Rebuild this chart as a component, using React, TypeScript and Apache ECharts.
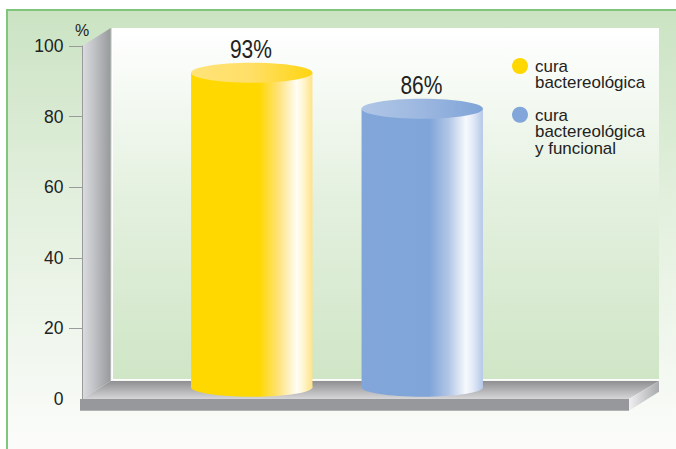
import React, { useEffect, useRef } from "react";
import * as echarts from "echarts";

const categories = ["A", "B"];
const seriesNames = ["cura bactereológica", "cura bactereológica y funcional"];
const drawnHeights = [92.4, 82.2];
const valueLabels = ["93%", "86%"];
const tickValues = [20, 40, 60, 80, 100];
const legendLines = [["cura", "bactereológica"], ["cura", "bactereológica", "y funcional"]];

const palettes = [
  {
    dot: "#ffd800",
    body: [[0, "#ffd800"], [0.56, "#ffd800"], [0.72, "#ffe27a"], [0.87, "#fffdf4"], [0.91, "#fff8dc"], [1, "#ffe387"]],
    cap: [[0, "#ffe379"], [0.5, "#ffdf66"], [1, "#ffd510"]],
  },
  {
    dot: "#82a6da",
    body: [[0, "#82a6da"], [0.56, "#7fa5d9"], [0.72, "#b3c7e6"], [0.86, "#f6f9fd"], [0.91, "#e6edf8"], [1, "#b5c8e8"]],
    cap: [[0, "#b0c6e6"], [0.5, "#9cb7e0"], [1, "#7fa4d8"]],
  },
];

const grad = (stops: any[], horizontal: boolean) => ({
  type: "linear", x: 0, y: 0, x2: horizontal ? 1 : 0, y2: horizontal ? 0 : 1,
  colorStops: stops.map(([offset, color]) => ({ offset, color })),
});

const FLAT = "Liberation Sans, Arial, sans-serif";

function cylinder(seriesIndex: number) {
  return (params: any, api: any) => {
    const pal = palettes[seriesIndex];
    const top = api.coord([api.value(0), api.value(1)]);
    const base = api.coord([api.value(0), 3.3]);
    const rx = 60.7;
    const ry = 10;
    const body = grad(pal.body, true);
    return {
      type: "group",
      children: [
        { type: "rect", shape: { x: top[0] - rx, y: top[1], width: rx * 2, height: base[1] - top[1] }, style: { fill: body } },
        { type: "ellipse", shape: { cx: top[0], cy: base[1], rx, ry: 9.5 }, style: { fill: body } },
        { type: "ellipse", shape: { cx: top[0], cy: top[1], rx, ry }, style: { fill: grad(pal.cap, true) } },
        {
          type: "text", x: top[0] - 0.8, y: top[1] - 23.5, scaleX: 0.84,
          style: { text: valueLabels[seriesIndex], fontFamily: FLAT, fontSize: 25, fill: "#222", align: "center", verticalAlign: "middle" },
        },
      ],
    };
  };
}

export default function App() {
  const ref = useRef<HTMLDivElement>(null);
  useEffect(() => {
    const chart = echarts.init(ref.current!, undefined, { renderer: "svg" });
    const legendGraphics: any[] = [];
    [66, 114.7].forEach((cy, i) => {
      legendGraphics.push({ type: "circle", z: 5, shape: { cx: 520, cy, r: 8 }, style: { fill: palettes[i].dot } });
      legendLines[i].forEach((line, j) => {
        legendGraphics.push({
          type: "text", z: 5, x: 535, y: cy + j * 16.6, scaleX: 1.06,
          style: { text: line, fontFamily: FLAT, fontSize: 16, fill: "#222", verticalAlign: "middle", align: "left" },
        });
      });
    });
    chart.setOption({
      animation: false,
      backgroundColor: "#ffffff",
      grid: { left: 166.5, width: 341, top: 46, height: 353 },
      xAxis: { type: "category", data: categories, show: false },
      yAxis: {
        type: "value", min: 0, max: 100, interval: 20, offset: 84.5,
        name: "%", nameLocation: "end", nameGap: 8,
        nameTextStyle: { fontFamily: FLAT, fontSize: 16, color: "#222", align: "center", padding: [0, 0, 0, 0] },
        axisLine: { show: true, lineStyle: { color: "#9a9a9c", width: 1 } },
        axisTick: { show: true, length: 13, customValues: tickValues, lineStyle: { color: "#9a9a9c", width: 1 } },
        axisLabel: { margin: 18.5, fontFamily: FLAT, fontSize: 17.5, color: "#222" },
        splitLine: { show: false },
      },
      graphic: {
        elements: [
          { type: "rect", z: -10, shape: { x: 8, y: 11, width: 668, height: 438 }, style: { fill: grad([[0, "#cbe3c3"], [0.45, "#e3f0de"], [1, "#fbfcfa"]], false) } },
          { type: "rect", z: -9, shape: { x: 6, y: 9, width: 670, height: 2 }, style: { fill: "#7fc67c" } },
          { type: "rect", z: -9, shape: { x: 6, y: 9, width: 2, height: 440 }, style: { fill: "#7fc67c" } },
          { type: "rect", z: -8, shape: { x: 112, y: 28, width: 547, height: 352 }, style: { fill: "#ffffff" } },
          { type: "rect", z: -7, shape: { x: 113, y: 28, width: 546, height: 351 }, style: { fill: grad([[0, "#ffffff"], [0.5, "#e3f0de"], [1, "#cfe6c6"]], false) } },
          { type: "polygon", z: -6, shape: { points: [[82, 46], [110.7, 28], [110.7, 381], [82, 399]] }, style: { fill: grad([[0, "#dcdde1"], [0.4, "#c3c4c8"], [1, "#98999d"]], true) } },
          { type: "polygon", z: -5, shape: { points: [[110.7, 381], [659, 381], [629, 399], [82, 399]] }, style: { fill: grad([[0, "#8f8f91"], [1, "#d6d6d8"]], false) } },
          { type: "rect", z: -4, shape: { x: 80, y: 399, width: 549, height: 11.7 }, style: { fill: "#97989c" } },
          { type: "polygon", z: -4, shape: { points: [[629, 399], [659, 381], [659, 391.7], [629, 410.7]] }, style: { fill: grad([[0, "#f0f0f1"], [1, "#a9aaad"]], true) } },
          ...legendGraphics,
        ],
      },
      series: seriesNames.map((name, i) => ({
        type: "custom",
        name,
        coordinateSystem: "cartesian2d",
        clip: false,
        encode: { x: 0, y: 1 },
        data: [[i, drawnHeights[i]]],
        renderItem: cylinder(i),
      })),
    });
    return () => chart.dispose();
  }, []);
  return <div ref={ref} style={{ position: "fixed", left: 0, top: 0, width: 676, height: 449 }} />;
}
